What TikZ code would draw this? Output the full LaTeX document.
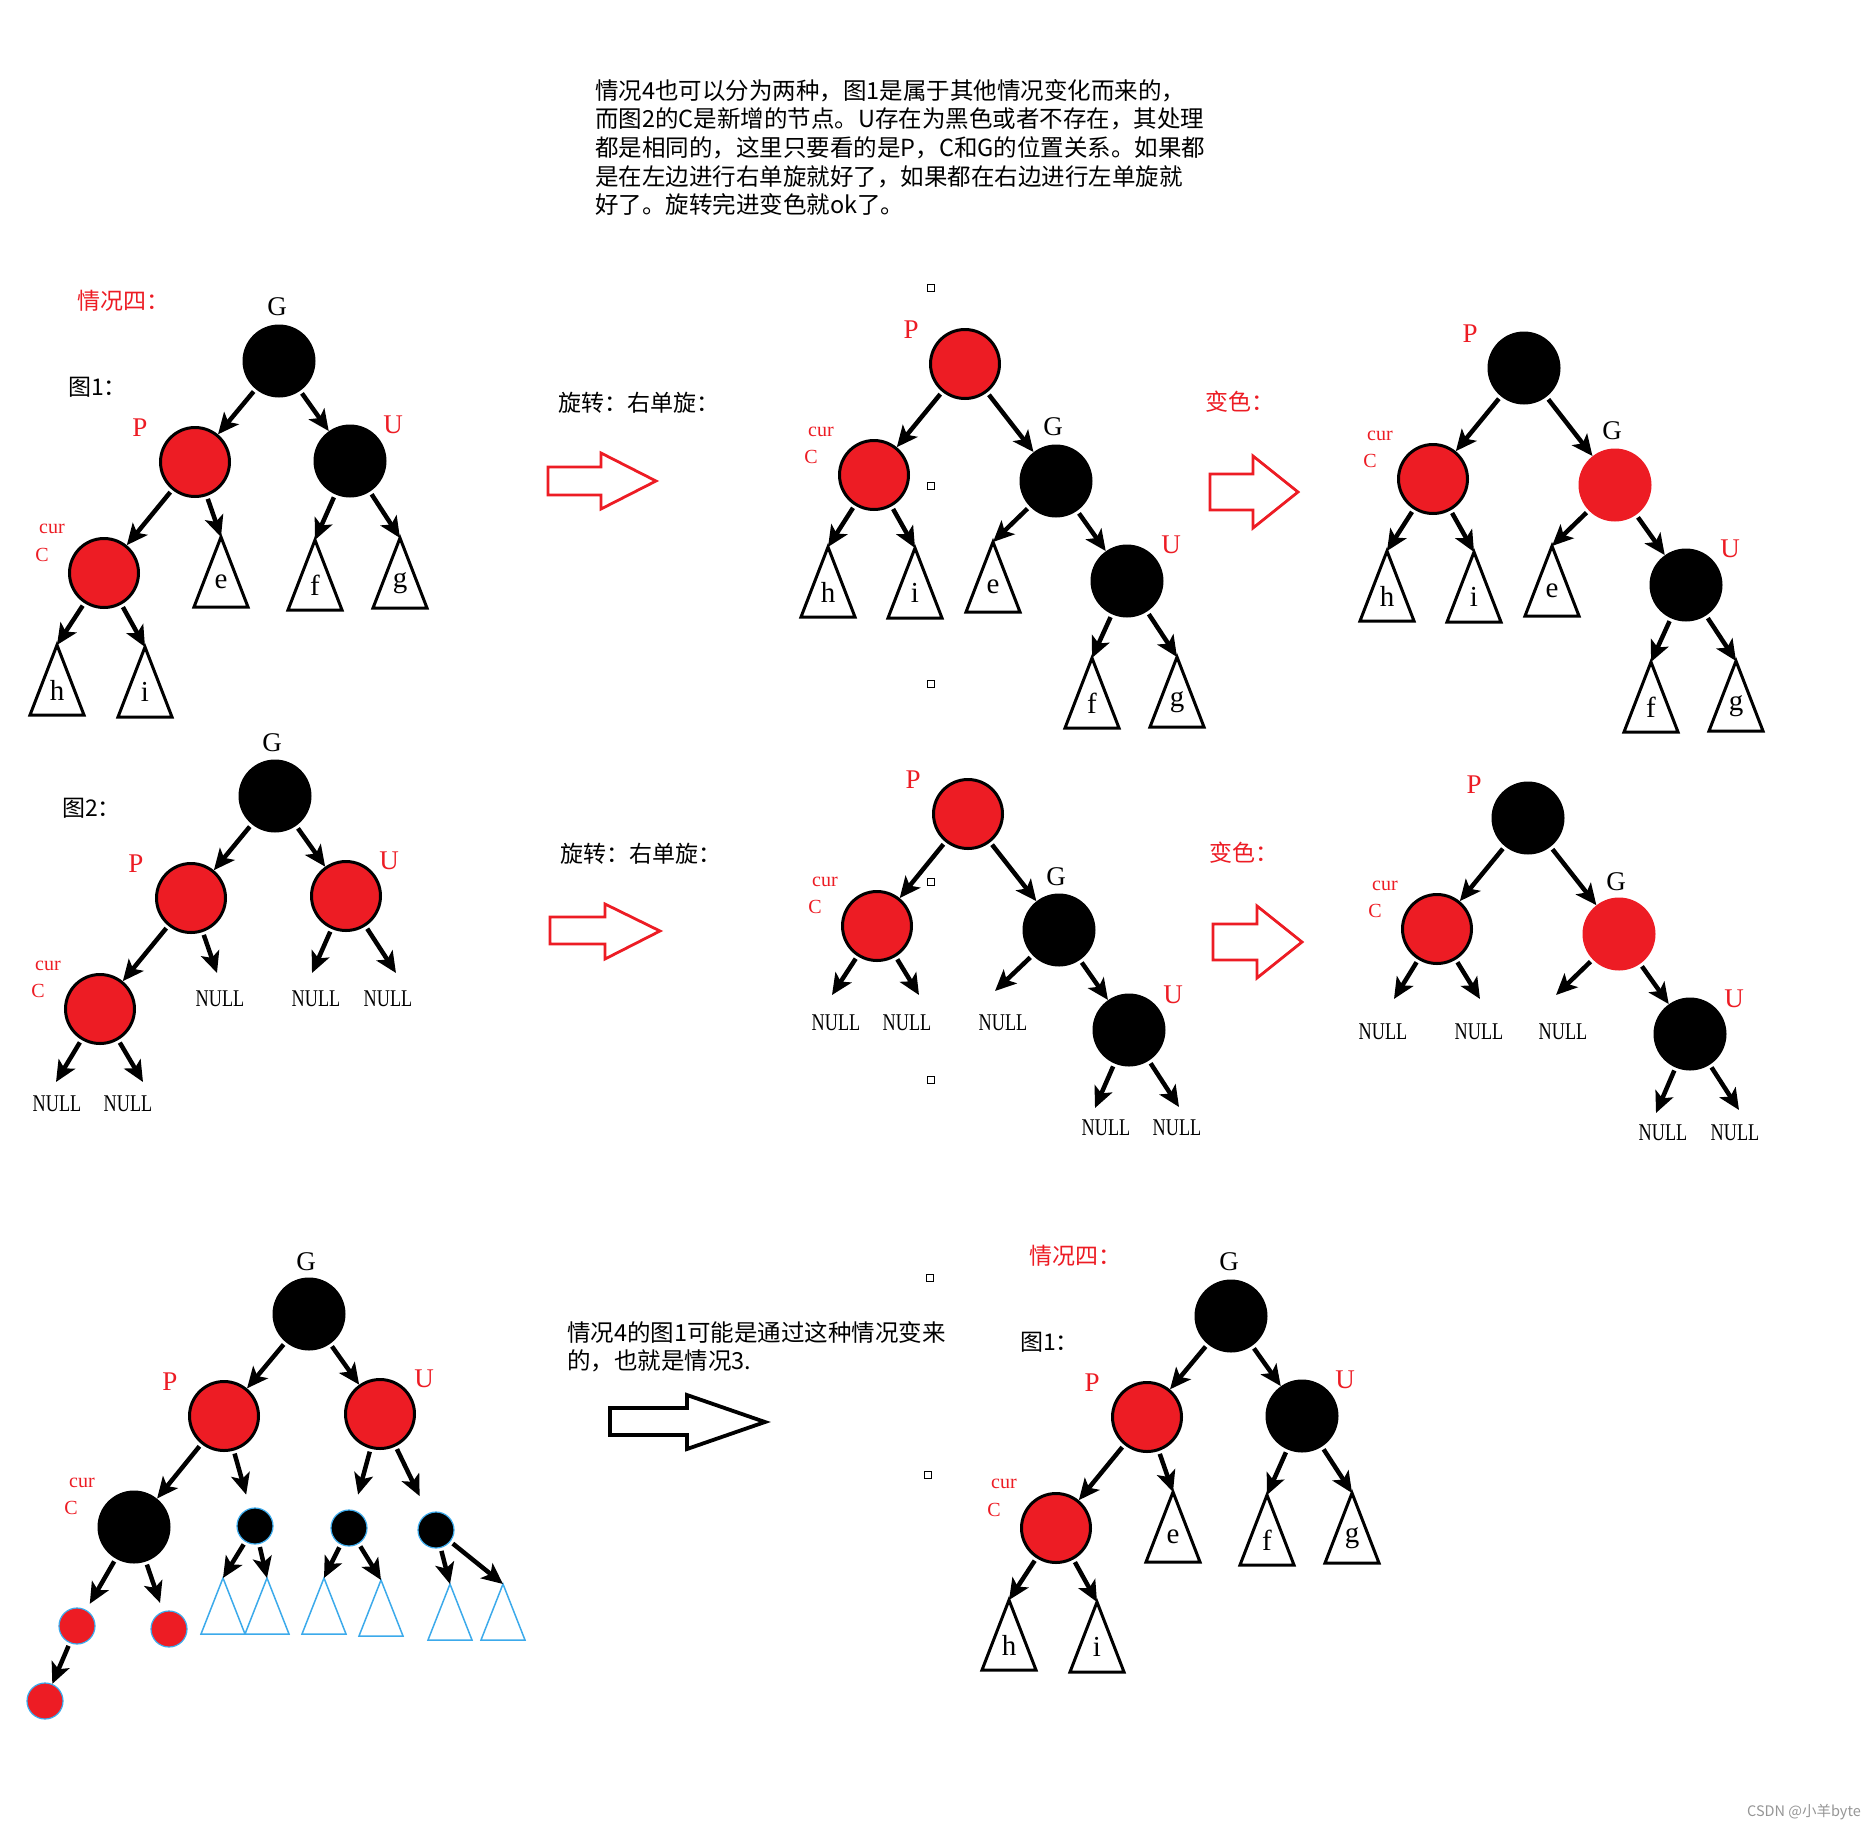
\documentclass[tikz,border=0pt]{standalone}
\usepackage{fontspec}
\setmainfont{Liberation Serif}
\newfontfamily\cjk{Noto Sans CJK SC}
\newfontfamily\condserif[FakeStretch=0.76]{Liberation Serif}
\usetikzlibrary{arrows.meta}
\definecolor{rbred}{RGB}{237,28,36}
\definecolor{skyblue}{RGB}{60,170,235}
\definecolor{markgray}{RGB}{150,150,150}

\begin{document}
\begin{tikzpicture}[
    x=1pt, y=-1pt,
    rednode/.style={circle, fill=rbred, draw=black, line width=3pt, minimum size=69pt, inner sep=0pt},
    blacknode/.style={circle, fill=black, minimum size=73pt, inner sep=0pt},
    redbare/.style={circle, fill=rbred, minimum size=73pt, inner sep=0pt},
    smallblack/.style={circle, fill=black, draw=skyblue, line width=1.2pt, minimum size=36pt, inner sep=0pt},
    smallred/.style={circle, fill=rbred, draw=skyblue, line width=1.2pt, minimum size=36pt, inner sep=0pt},
    handle/.style={draw, rectangle, line width=1.2pt, minimum size=7pt, inner sep=0pt},
    lab/.style={font=\fontsize{27}{27}\selectfont, inner sep=0pt},
    curlab/.style={font=\fontsize{20}{20}\selectfont, text=rbred, inner sep=0pt},
    leaf/.style={font=\fontsize{29}{29}\selectfont, inner sep=0pt},
    nulltext/.style={font=\condserif\fontsize{24}{24}\selectfont, inner sep=0pt},
    cjktext/.style={font=\cjk\fontsize{23.5}{28.7}\selectfont, inner sep=0pt, align=left},
    cjklab/.style={font=\cjk\fontsize{23}{23}\selectfont, inner sep=0pt, anchor=west},
    treearrow/.style={-{Stealth[length=21pt, width=19pt, inset=5pt]}, line width=4.5pt, shorten <=3pt},
    blockarrow/.style={line width=2.8pt, line join=miter},
    pics/subtree/.style={code={
        \coordinate (-top) at (0,0);
        \draw[line width=3pt, line join=miter] (0,0) -- (-27,70) -- (27,70) -- cycle;
        \node[leaf] (-txt) at (0,45) {#1};
    }},
    pics/bluetree/.style={code={
        \coordinate (-top) at (0,0);
        \draw[skyblue, line width=1.5pt, line join=miter] (0,0) -- (-22,56) -- (22,56) -- cycle;
    }},
]
\path[use as bounding box, fill=white] (0,0) rectangle (1875,1829);

%% Intro text
\node[cjktext, anchor=north west] (intro) at (595,79) {情况4也可以分为两种，图1是属于其他情况变化而来的，\\而图2的C是新增的节点。U存在为黑色或者不存在，其处理\\都是相同的，这里只要看的是P，C和G的位置关系。如果都\\是在左边进行右单旋就好了，如果都在右边进行左单旋就\\好了。旋转完进变色就ok了。};

%% Handles
\node[handle] (hd1) at (931,288) {};
\node[handle] (hd2) at (931,486) {};
\node[handle] (hd3) at (931,684) {};
\node[handle] (hd4) at (931,882) {};
\node[handle] (hd5) at (931,1080) {};
\node[handle] (hd6) at (930,1278) {};
\node[handle] (hd7) at (928,1475) {};

%% Tree 1: case 4, figure 1
\node[cjklab, text=rbred] (case1) at (77,301) {情况四：};
\node[cjklab] (fig1) at (68,387) {图1：};
\node[blacknode] (g1) at (279,361) {};
\node[rednode] (p1) at (195,462) {};
\node[blacknode] (u1) at (350,461) {};
\node[rednode] (c1) at (104,573) {};
\node[lab] (g1l) at (277,307) {G};
\node[lab, text=rbred] (p1l) at (140,428) {P};
\node[lab, text=rbred] (u1l) at (393,425) {U};
\node[curlab] (c1a) at (52,529) {cur};
\node[curlab] (c1b) at (42,555) {C};
\pic (se1) at (221,537) {subtree=e};
\pic (sf1) at (315,540) {subtree=f};
\pic (sg1) at (400,538) {subtree=g};
\pic (sh1) at (57,645) {subtree=h};
\pic (si1) at (145,647) {subtree=i};
\draw[treearrow] (g1) -- (p1);
\draw[treearrow] (g1) -- (u1);
\draw[treearrow] (p1) -- (c1);
\draw[treearrow] (p1) -- (se1-top);
\draw[treearrow] (u1) -- (sf1-top);
\draw[treearrow] (u1) -- (sg1-top);
\draw[treearrow] (c1) -- (sh1-top);
\draw[treearrow] (c1) -- (si1-top);

%% Rotation 1
\node[cjklab] (rot1) at (558,403) {旋转：右单旋：};
\draw[blockarrow, draw=rbred] (548,467) -- (601,467) -- (601,453) -- (656,481) -- (601,509) -- (601,495) -- (548,495) -- cycle;

%% Tree 2: after rotation
\node[rednode] (p2) at (965,364) {};
\node[rednode] (c2) at (874,475) {};
\node[blacknode] (g2) at (1056,481) {};
\node[blacknode] (u2) at (1127,581) {};
\node[lab, text=rbred] (p2l) at (911,330) {P};
\node[curlab] (c2a) at (821,432) {cur};
\node[curlab] (c2b) at (811,457) {C};
\node[lab] (g2l) at (1053,427) {G};
\node[lab, text=rbred] (u2l) at (1171,545) {U};
\pic (sh2) at (828,547) {subtree=h};
\pic (si2) at (915,548) {subtree=i};
\pic (se2) at (993,542) {subtree=e};
\pic (sf2) at (1092,658) {subtree=f};
\pic (sg2) at (1177,657) {subtree=g};
\draw[treearrow] (p2) -- (c2);
\draw[treearrow] (p2) -- (g2);
\draw[treearrow] (c2) -- (sh2-top);
\draw[treearrow] (c2) -- (si2-top);
\draw[treearrow] (g2) -- (se2-top);
\draw[treearrow] (g2) -- (u2);
\draw[treearrow] (u2) -- (sf2-top);
\draw[treearrow] (u2) -- (sg2-top);

%% Recolour 1
\node[cjklab, text=rbred] (recolor1) at (1205,402) {变色：};
\draw[blockarrow, draw=rbred] (1210,474) -- (1253,474) -- (1253,456) -- (1298,492) -- (1253,528) -- (1253,510) -- (1210,510) -- cycle;

%% Tree 3: after recolouring
\node[blacknode] (p3) at (1524,368) {};
\node[rednode] (c3) at (1433,479) {};
\node[redbare] (g3) at (1615,485) {};
\node[blacknode] (u3) at (1686,585) {};
\node[lab, text=rbred] (p3l) at (1470,334) {P};
\node[curlab] (c3a) at (1380,436) {cur};
\node[curlab] (c3b) at (1370,461) {C};
\node[lab] (g3l) at (1612,431) {G};
\node[lab, text=rbred] (u3l) at (1730,549) {U};
\pic (sh3) at (1387,551) {subtree=h};
\pic (si3) at (1474,552) {subtree=i};
\pic (se3) at (1552,546) {subtree=e};
\pic (sf3) at (1651,662) {subtree=f};
\pic (sg3) at (1736,661) {subtree=g};
\draw[treearrow] (p3) -- (c3);
\draw[treearrow] (p3) -- (g3);
\draw[treearrow] (c3) -- (sh3-top);
\draw[treearrow] (c3) -- (si3-top);
\draw[treearrow] (g3) -- (se3-top);
\draw[treearrow] (g3) -- (u3);
\draw[treearrow] (u3) -- (sf3-top);
\draw[treearrow] (u3) -- (sg3-top);

%% Tree 4: figure 2
\node[cjklab] (fig2) at (62,808) {图2：};
\node[blacknode] (g4) at (275,796) {};
\node[rednode] (p4) at (191,898) {};
\node[rednode] (u4) at (346,896) {};
\node[rednode] (c4) at (100,1009) {};
\node[lab] (g4l) at (272,743) {G};
\node[lab, text=rbred] (p4l) at (136,864) {P};
\node[lab, text=rbred] (u4l) at (389,861) {U};
\node[curlab] (c4a) at (48,966) {cur};
\node[curlab] (c4b) at (38,991) {C};
\coordinate (n4a) at (217,973); \node[nulltext] (t4a) at (220,999) {NULL};
\coordinate (n4b) at (312,973); \node[nulltext] (t4b) at (316,999) {NULL};
\coordinate (n4c) at (396,973); \node[nulltext] (t4c) at (388,999) {NULL};
\coordinate (n4d) at (56,1082); \node[nulltext] (t4d) at (57,1104) {NULL};
\coordinate (n4e) at (143,1082); \node[nulltext] (t4e) at (128,1104) {NULL};
\draw[treearrow] (g4) -- (p4);
\draw[treearrow] (g4) -- (u4);
\draw[treearrow] (p4) -- (c4);
\draw[treearrow] (p4) -- (n4a);
\draw[treearrow] (u4) -- (n4b);
\draw[treearrow] (u4) -- (n4c);
\draw[treearrow] (c4) -- (n4d);
\draw[treearrow] (c4) -- (n4e);

%% Rotation 2
\node[cjklab] (rot2) at (560,854) {旋转：右单旋：};
\draw[blockarrow, draw=rbred] (550,917) -- (605,917) -- (605,904) -- (660,931) -- (605,959) -- (605,944) -- (550,944) -- cycle;

%% Tree 5: figure 2 after rotation
\node[rednode] (p5) at (968,814) {};
\node[rednode] (c5) at (877,926) {};
\node[blacknode] (g5) at (1059,930) {};
\node[blacknode] (u5) at (1129,1030) {};
\node[lab, text=rbred] (p5l) at (913,780) {P};
\node[curlab] (c5a) at (825,882) {cur};
\node[curlab] (c5b) at (815,907) {C};
\node[lab] (g5l) at (1056,877) {G};
\node[lab, text=rbred] (u5l) at (1173,995) {U};
\coordinate (n5a) at (832,995); \node[nulltext] (t5a) at (836,1023) {NULL};
\coordinate (n5b) at (919,995); \node[nulltext] (t5b) at (907,1023) {NULL};
\coordinate (n5c) at (995,991); \node[nulltext] (t5c) at (1003,1023) {NULL};
\coordinate (n5d) at (1095,1108); \node[nulltext] (t5d) at (1106,1128) {NULL};
\coordinate (n5e) at (1179,1107); \node[nulltext] (t5e) at (1177,1128) {NULL};
\draw[treearrow] (p5) -- (c5);
\draw[treearrow] (p5) -- (g5);
\draw[treearrow] (c5) -- (n5a);
\draw[treearrow] (c5) -- (n5b);
\draw[treearrow] (g5) -- (n5c);
\draw[treearrow] (g5) -- (u5);
\draw[treearrow] (u5) -- (n5d);
\draw[treearrow] (u5) -- (n5e);

%% Recolour 2
\node[cjklab, text=rbred] (recolor2) at (1209,853) {变色：};
\draw[blockarrow, draw=rbred] (1213,924) -- (1257,924) -- (1257,906) -- (1302,942) -- (1257,978) -- (1257,960) -- (1213,960) -- cycle;

%% Tree 6: figure 2 after recolouring
\node[blacknode] (p6) at (1528,818) {};
\node[rednode] (c6) at (1437,929) {};
\node[redbare] (g6) at (1619,934) {};
\node[blacknode] (u6) at (1690,1034) {};
\node[lab, text=rbred] (p6l) at (1474,785) {P};
\node[curlab] (c6a) at (1385,886) {cur};
\node[curlab] (c6b) at (1375,911) {C};
\node[lab] (g6l) at (1616,882) {G};
\node[lab, text=rbred] (u6l) at (1734,999) {U};
\coordinate (n6a) at (1394,999); \node[nulltext] (t6a) at (1383,1032) {NULL};
\coordinate (n6b) at (1480,999); \node[nulltext] (t6b) at (1479,1032) {NULL};
\coordinate (n6c) at (1556,995); \node[nulltext] (t6c) at (1563,1032) {NULL};
\coordinate (n6d) at (1656,1113); \node[nulltext] (t6d) at (1663,1133) {NULL};
\coordinate (n6e) at (1739,1110); \node[nulltext] (t6e) at (1735,1133) {NULL};
\draw[treearrow] (p6) -- (c6);
\draw[treearrow] (p6) -- (g6);
\draw[treearrow] (c6) -- (n6a);
\draw[treearrow] (c6) -- (n6b);
\draw[treearrow] (g6) -- (n6c);
\draw[treearrow] (g6) -- (u6);
\draw[treearrow] (u6) -- (n6d);
\draw[treearrow] (u6) -- (n6e);

%% Tree 7: case 3 origin
\node[blacknode] (g7) at (309,1314) {};
\node[rednode] (p7) at (224,1416) {};
\node[rednode] (u7) at (380,1414) {};
\node[blacknode] (c7) at (134,1527) {};
\node[lab] (g7l) at (306,1262) {G};
\node[lab, text=rbred] (p7l) at (170,1382) {P};
\node[lab, text=rbred] (u7l) at (424,1379) {U};
\node[curlab] (c7a) at (82,1483) {cur};
\node[curlab] (c7b) at (71,1508) {C};
\node[smallblack] (s7a) at (255,1526) {};
\node[smallblack] (s7b) at (349,1528) {};
\node[smallblack] (s7c) at (436,1530) {};
\node[smallred] (r7a) at (77,1626) {};
\node[smallred] (r7b) at (169,1629) {};
\node[smallred] (r7c) at (45,1701) {};
\pic (b7a) at (223,1578) {bluetree};
\pic (b7b) at (267,1578) {bluetree};
\pic (b7c) at (324,1578) {bluetree};
\pic (b7d) at (381,1580) {bluetree};
\pic (b7e) at (450,1584) {bluetree};
\pic (b7f) at (503,1584) {bluetree};
\draw[treearrow] (g7) -- (p7);
\draw[treearrow] (g7) -- (u7);
\draw[treearrow] (p7) -- (c7);
\draw[treearrow, shorten >=14pt] (p7) -- (s7a);
\draw[treearrow, shorten >=16pt] (u7) -- (s7b);
\draw[treearrow, shorten >=19pt] (u7) -- (s7c);
\draw[treearrow, shorten >=7pt] (c7) -- (r7a);
\draw[treearrow, shorten >=9pt] (c7) -- (r7b);
\draw[treearrow] (r7a) -- (r7c);
\draw[treearrow] (s7a) -- (b7a-top);
\draw[treearrow] (s7a) -- (b7b-top);
\draw[treearrow] (s7b) -- (b7c-top);
\draw[treearrow] (s7b) -- (b7d-top);
\draw[treearrow] (s7c) -- (b7e-top);
\draw[treearrow] (s7c) -- (b7f-top);

%% Note and black arrow
\node[cjktext, anchor=north west] (note) at (567,1321) {情况4的图1可能是通过这种情况变来\\的，也就是情况3.};
\draw[blockarrow, line width=3.8pt] (610,1408) -- (687,1408) -- (687,1395) -- (765,1422) -- (687,1449) -- (687,1435) -- (610,1435) -- cycle;

%% Tree 8: case 4, figure 1 again
\node[cjklab, text=rbred] (case2) at (1029,1256) {情况四：};
\node[cjklab] (fig1b) at (1020,1342) {图1：};
\node[blacknode] (g8) at (1231,1316) {};
\node[rednode] (p8) at (1147,1417) {};
\node[blacknode] (u8) at (1302,1416) {};
\node[rednode] (c8) at (1056,1528) {};
\node[lab] (g8l) at (1229,1262) {G};
\node[lab, text=rbred] (p8l) at (1092,1383) {P};
\node[lab, text=rbred] (u8l) at (1345,1380) {U};
\node[curlab] (c8a) at (1004,1484) {cur};
\node[curlab] (c8b) at (994,1510) {C};
\pic (se8) at (1173,1492) {subtree=e};
\pic (sf8) at (1267,1495) {subtree=f};
\pic (sg8) at (1352,1493) {subtree=g};
\pic (sh8) at (1009,1600) {subtree=h};
\pic (si8) at (1097,1602) {subtree=i};
\draw[treearrow] (g8) -- (p8);
\draw[treearrow] (g8) -- (u8);
\draw[treearrow] (p8) -- (c8);
\draw[treearrow] (p8) -- (se8-top);
\draw[treearrow] (u8) -- (sf8-top);
\draw[treearrow] (u8) -- (sg8-top);
\draw[treearrow] (c8) -- (sh8-top);
\draw[treearrow] (c8) -- (si8-top);

%% Watermark
\node[font=\cjk\fontsize{14.5}{14.5}\selectfont, text=markgray, anchor=east, inner sep=0pt] (mark) at (1861,1812) {CSDN @小羊byte};
\end{tikzpicture}
\end{document}
